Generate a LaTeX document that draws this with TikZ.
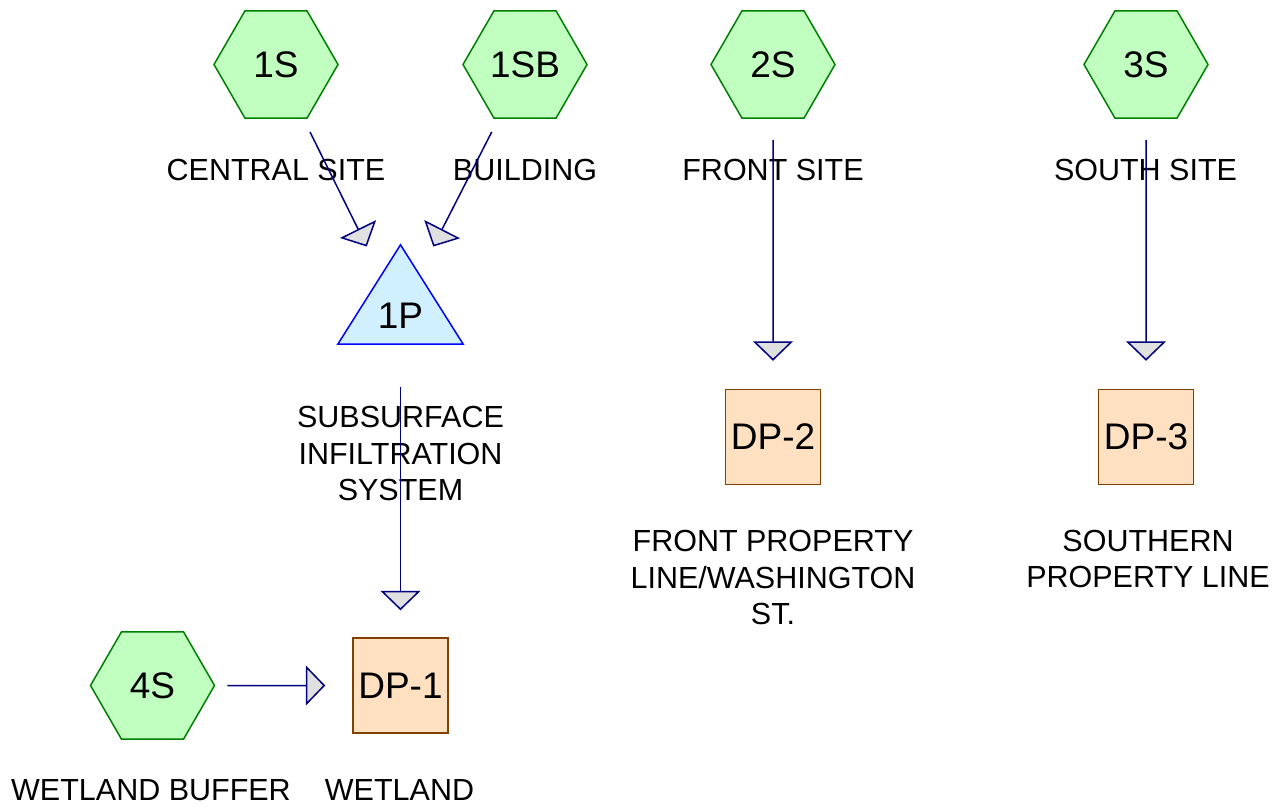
\documentclass[tikz,border=0pt]{standalone}
\usepackage{fontspec}
\setmainfont{Liberation Sans}
\usetikzlibrary{shapes.geometric,arrows.meta}
\definecolor{hexfill}{HTML}{C0FFC0}
\definecolor{hexline}{HTML}{008000}
\definecolor{boxfill}{HTML}{FFE0C0}
\definecolor{boxline}{HTML}{804000}
\definecolor{trifill}{HTML}{D0F0FF}
\definecolor{triline}{HTML}{0000FF}
\definecolor{flowline}{HTML}{000080}
\definecolor{headfill}{HTML}{E0E0E0}
\begin{document}
\begin{tikzpicture}[x=1pt,y=1pt,
  subcat/.style={regular polygon, regular polygon sides=6, minimum size=124pt, inner sep=0pt,
    draw=hexline, fill=hexfill, line width=1.5pt, font=\fontsize{37}{44}\selectfont},
  reach/.style={rectangle, minimum size=95pt, inner sep=0pt,
    draw=boxline, fill=boxfill, line width=1.5pt, font=\fontsize{37}{44}\selectfont},
  pondbox/.style={rectangle, minimum width=125pt, minimum height=99pt, inner sep=0pt},
  pondshape/.style={draw=triline, fill=trifill, line width=1.5pt, line join=miter},
  pondtext/.style={inner sep=0pt, font=\fontsize{37}{44}\selectfont},
  capt/.style={inner sep=0pt, font=\fontsize{30.5}{36.6}\selectfont, align=center},
  flow/.style={draw=flowline, line width=1.5pt,
    -{Triangle[length=19.5pt, width=40pt, fill=headfill]}}
]
\useasboundingbox (0,0) rectangle (1287,-807);

% subcatchments
\node[subcat] (1S)  at (276,-64.5)   {1S};
\node[subcat] (1SB) at (525,-64.5)   {1SB};
\node[subcat] (2S)  at (773,-64.5)   {2S};
\node[subcat] (3S)  at (1146,-64.5)  {3S};
\node[subcat] (4S)  at (152.5,-685.5) {4S};

% pond
\node[pondbox] (1P) at (400.5,-294.5) {};
\draw[pondshape] (1P.north) -- (1P.south east) -- (1P.south west) -- cycle;
\node[pondtext] (1Ptext) at ([yshift=-21.5]1P.center) {1P};

% reaches / design points
\node[reach] (DP1) at (400.5,-685.5) {DP-1};
\node[reach] (DP2) at (773,-437)     {DP-2};
\node[reach] (DP3) at (1146,-437)    {DP-3};

% captions
\node[capt, anchor=base] (c1S)  at (276,-180)    {CENTRAL SITE};
\node[capt, anchor=base] (c1SB) at (525,-180)    {BUILDING};
\node[capt, anchor=base] (c2S)  at (773,-180)    {FRONT SITE};
\node[capt, anchor=base] (c3S)  at (1145.5,-180) {SOUTH SITE};
\node[capt, anchor=north] (c1P) at (400.5,-406) {SUBSURFACE\\INFILTRATION\\SYSTEM};
\node[capt, anchor=north] (cDP2) at (773,-530) {FRONT PROPERTY\\LINE/WASHINGTON\\ST.};
\node[capt, anchor=north] (cDP3) at (1148,-529.5) {SOUTHERN\\PROPERTY LINE};
\node[capt, anchor=base] (c4S)  at (151,-800)    {WETLAND BUFFER};
\node[capt, anchor=base] (cDP1) at (399.5,-800)  {WETLAND};

% connectors
\draw[flow] ([xshift=34pt,yshift=-13pt]1S.south) -- ([xshift=-33.8pt,yshift=-1.7pt]1P.north);
\draw[flow] ([xshift=-33.3pt,yshift=-13pt]1SB.south) -- ([xshift=32.8pt,yshift=-1.7pt]1P.north);
\draw[flow] ([yshift=-43pt]1P.south) -- ([yshift=27pt]DP1.north);
\draw[flow] ([yshift=-21pt]2S.south) -- ([yshift=28pt]DP2.north);
\draw[flow] ([yshift=-21pt]3S.south) -- ([yshift=28pt]DP3.north);
\draw[flow] ([xshift=12pt]4S.east) -- ([xshift=-27pt]DP1.west);
\end{tikzpicture}
\end{document}
